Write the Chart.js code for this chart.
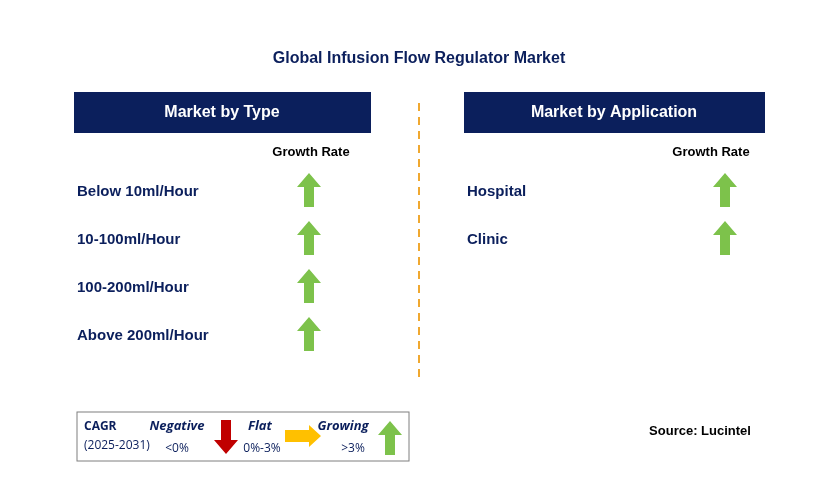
<!DOCTYPE html>
<html>
<head>
<meta charset="utf-8">
<script src="https://cdn.jsdelivr.net/npm/chart.js@4"></script>
<style>
  html, body { margin: 0; padding: 0; background: #fff; }
  #wrap { width: 829px; height: 493px; }
</style>
</head>
<body>
<div id="wrap"><canvas id="c" width="829" height="493"></canvas></div>
<script>
// ── Data ─────────────────────────────────────────────────────────────────────
const chartTitle = 'Global Infusion Flow Regulator Market';
const typeCategories = ['Below 10ml/Hour', '10-100ml/Hour', '100-200ml/Hour', 'Above 200ml/Hour'];
const typeGrowth = ['up', 'up', 'up', 'up'];
const appCategories = ['Hospital', 'Clinic'];
const appGrowth = ['up', 'up'];

const NAVY = '#0b1f5c';
const TEXT = '#0b1f5c';
const LFONT = '"Open Sans", "Noto Sans", Arial';

// ── Arrow icons ──────────────────────────────────────────────────────────────
function makeArrow(dir, color) {
    const c = document.createElement('canvas');
    const w = dir === 'right' ? 36 : 24, h = dir === 'right' ? 22 : 34;
    c.width = w; c.height = h;
    const g = c.getContext('2d');
    g.fillStyle = color;
    g.beginPath();
    if (dir === 'up') {
        g.moveTo(12, 0); g.lineTo(24, 14); g.lineTo(17, 14); g.lineTo(17, 34);
        g.lineTo(7, 34); g.lineTo(7, 14); g.lineTo(0, 14);
    } else if (dir === 'down') {
        g.moveTo(12, 34); g.lineTo(24, 20); g.lineTo(17, 20); g.lineTo(17, 0);
        g.lineTo(7, 0); g.lineTo(7, 20); g.lineTo(0, 20);
    } else {
        g.moveTo(36, 11); g.lineTo(24, 0); g.lineTo(24, 5); g.lineTo(0, 5);
        g.lineTo(0, 17); g.lineTo(24, 17); g.lineTo(24, 22);
    }
    g.closePath(); g.fill();
    return c;
}
const icons = {
    up: makeArrow('up', '#7dc24b'),
    down: makeArrow('down', '#c00000'),
    right: makeArrow('right', '#ffc000')
};

const rowY = i => 190 + i * 48;
const typePoints = typeGrowth.map((g, i) => ({ x: 309, y: rowY(i), g }));
const appPoints = appGrowth.map((g, i) => ({ x: 725, y: rowY(i), g }));
const legendPoints = [{ x: 226, y: 437, g: 'down' }, { x: 303, y: 436, g: 'right' }, { x: 390, y: 438, g: 'up' }];

// ── Text / frame plugin ──────────────────────────────────────────────────────
const infographic = {
    id: 'infographic',
    beforeDatasetsDraw(chart) {
        const ctx = chart.ctx;
        const sx = v => chart.scales.x.getPixelForValue(v);
        const sy = v => chart.scales.y.getPixelForValue(v);
        const text = (t, x, y, font, color, align) => {
            ctx.font = font; ctx.fillStyle = color; ctx.textAlign = align || 'left';
            ctx.textBaseline = 'middle'; ctx.fillText(t, sx(x), sy(y + 2));
        };
        ctx.save();
        text(chartTitle, 419, 57, 'bold 16px Arial, "Liberation Sans"', TEXT, 'center');

        // headers
        ctx.fillStyle = NAVY;
        ctx.fillRect(sx(74), sy(92), sx(371) - sx(74), sy(133) - sy(92));
        ctx.fillRect(sx(464), sy(92), sx(765) - sx(464), sy(133) - sy(92));
        text('Market by Type', 222, 111, 'bold 16px Arial, "Liberation Sans"', '#fff', 'center');
        text('Market by Application', 614, 111, 'bold 16px Arial, "Liberation Sans"', '#fff', 'center');
        text('Growth Rate', 311, 150, 'bold 13px Arial, "Liberation Sans"', '#000', 'center');
        text('Growth Rate', 711, 150, 'bold 13px Arial, "Liberation Sans"', '#000', 'center');

        typeCategories.forEach((c, i) => text(c, 77, rowY(i), 'bold 15px Arial, "Liberation Sans"', TEXT));
        appCategories.forEach((c, i) => text(c, 467, rowY(i), 'bold 15px Arial, "Liberation Sans"', TEXT));

        // divider
        ctx.strokeStyle = '#f0a830'; ctx.lineWidth = 2; ctx.setLineDash([8, 6]);
        ctx.beginPath(); ctx.moveTo(sx(419), sy(103)); ctx.lineTo(sx(419), sy(380)); ctx.stroke();
        ctx.setLineDash([]);

        // legend box
        ctx.strokeStyle = '#7f7f7f'; ctx.lineWidth = 1;
        ctx.strokeRect(sx(77), sy(412), sx(409) - sx(77), sy(461) - sy(412));
        text('CAGR', 84, 425, 'bold 12px ' + LFONT, TEXT);
        text('(2025-2031)', 84, 444, '12px ' + LFONT, TEXT);
        text('Negative', 177, 424, 'bold italic 13px ' + LFONT, TEXT, 'center');
        text('<0%', 177, 447, '12px ' + LFONT, TEXT, 'center');
        text('Flat', 260, 424, 'bold italic 13px ' + LFONT, TEXT, 'center');
        text('0%-3%', 262, 447, '12px ' + LFONT, TEXT, 'center');
        text('Growing', 343, 424, 'bold italic 13px ' + LFONT, TEXT, 'center');
        text('>3%', 353, 447, '12px ' + LFONT, TEXT, 'center');

        text('Source: Lucintel', 700, 429, 'bold 13px Arial, "Liberation Sans"', '#000', 'center');
        ctx.restore();
    }
};

const pointStyleFor = ctx => icons[ctx.raw ? ctx.raw.g : 'up'];

new Chart(document.getElementById('c'), {
    type: 'scatter',
    data: {
        datasets: [
            { data: typePoints, pointStyle: pointStyleFor },
            { data: appPoints, pointStyle: pointStyleFor },
            { data: legendPoints, pointStyle: pointStyleFor }
        ]
    },
    options: {
        responsive: false,
        animation: false,
        layout: { padding: 0, autoPadding: false },
        plugins: { legend: { display: false }, tooltip: { enabled: false } },
        scales: {
            x: { type: 'linear', min: 0, max: 829, display: false },
            y: { type: 'linear', min: 0, max: 493, reverse: true, display: false }
        }
    },
    plugins: [infographic]
});
</script>
</body>
</html>
